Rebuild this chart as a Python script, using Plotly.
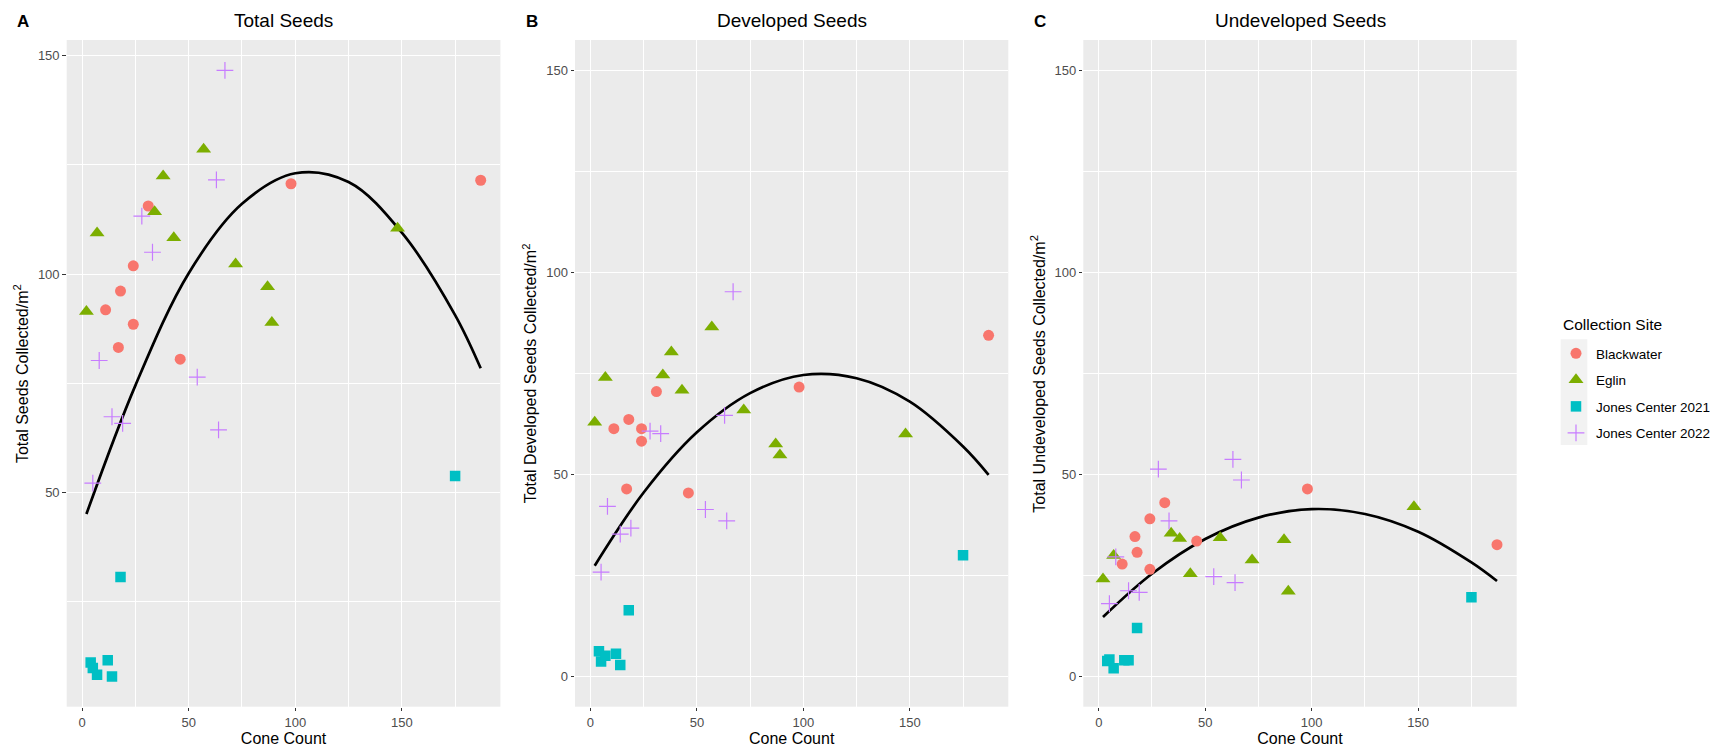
import numpy as np
import plotly.graph_objects as go

# ---------------- data ----------------
sites = ["Blackwater", "Eglin", "Jones Center 2021", "Jones Center 2022"]

bw_x = [11, 17, 18, 24, 24, 31, 46, 98, 187]
bw_total = [91.8, 83.2, 96.1, 101.9, 88.5, 115.6, 80.5, 120.7, 121.5]
bw_dev = [61.3, 46.4, 63.6, 61.3, 58.2, 70.5, 45.4, 71.6, 84.4]
bw_undev = [27.8, 34.6, 30.7, 39.0, 26.5, 43.0, 33.5, 46.4, 32.6]

eg_x = [2, 7, 34, 38, 43, 57, 72, 87, 89, 148]
eg_total = [91.4, 109.4, 114.3, 122.5, 108.3, 128.6, 102.3, 97.1, 88.9, 110.5]
eg_dev = [62.9, 74.0, 74.6, 80.3, 70.8, 86.5, 65.9, 57.5, 54.8, 60.0]
eg_undev = [24.1, 29.9, 35.4, 34.1, 25.4, 34.3, 28.8, 33.8, 21.1, 42.0]

j21_x = [4, 5, 7, 12, 14, 18, 175]
j21_total = [11.0, 9.7, 8.2, 11.5, 7.8, 30.6, 53.7]
j21_dev = [6.2, 3.7, 5.1, 5.6, 2.8, 16.4, 30.0]
j21_undev = [3.8, 4.2, 2.0, 4.0, 4.0, 12.0, 19.6]

j22_x = [5, 8, 14, 19, 28, 33, 54, 63, 64, 67]
j22_total = [52.1, 80.2, 67.3, 65.8, 113.3, 105.0, 76.4, 121.6, 64.3, 146.7]
j22_dev = [25.8, 42.1, 35.2, 36.7, 60.7, 60.1, 41.3, 64.6, 38.5, 95.2]
j22_undev = [18.0, 29.6, 21.2, 20.8, 51.3, 38.5, 24.7, 53.7, 23.2, 48.6]

# quadratic trend lines, heights
fit_x = [2, 25, 50, 75, 100, 125, 150, 175, 187]
fit_total = [45.0, 74.5, 100.2, 116.1, 123.1, 121.1, 109.5, 90.6, 78.4]
fit_dev = [27.4, 45.5, 60.4, 70.1, 74.6, 73.8, 68.0, 56.9, 49.9]
fit_undev = [14.7, 25.4, 34.0, 39.3, 41.4, 40.2, 35.8, 28.2, 23.6]

panel_titles = ["Total Seeds", "Developed Seeds", "Undeveloped Seeds"]
panel_letters = ["A", "B", "C"]
y_titles = ["Total Seeds Collected/m<sup>2</sup>",
            "Total Developed Seeds Collected/m<sup>2</sup>",
            "Total Undeveloped Seeds Collected/m<sup>2</sup>"]
x_title = "Cone Count"
legend_title = "Collection Site"
x_ticks = [0, 50, 100, 150]
y_ticks = [0, 50, 100, 150]

# ---------------- styling ----------------
colors = ["#F8766D", "#7CAE00", "#00BFC4", "#C77CFF"]
symbols = ["circle", "triangle-up", "square", "cross-thin-open"]
sizes = [11, 13, 10.5, 12]
FONT = "Liberation Sans, Arial, Helvetica, sans-serif"
W, H = 1725, 752

xs_by_site = [bw_x, eg_x, j21_x, j22_x]
ys_by_panel = [
    [bw_total, eg_total, j21_total, j22_total],
    [bw_dev, eg_dev, j21_dev, j22_dev],
    [bw_undev, eg_undev, j21_undev, j22_undev],
]
fits = [fit_total, fit_dev, fit_undev]

panel_px = [(66.7, 500.4), (575.0, 1008.3), (1083.3, 1516.7)]
top_px, bot_px = 40.0, 706.7
ydom = [1 - bot_px / H, 1 - top_px / H]

fig = go.Figure()

all_x = np.concatenate([np.array(v, float) for v in xs_by_site])
xmin, xmax = all_x.min(), all_x.max()
xpad = 0.05 * (xmax - xmin)
xrange_ = [xmin - xpad, xmax + xpad]

for p in range(3):
    xa = "x" if p == 0 else f"x{p+1}"
    ya = "y" if p == 0 else f"y{p+1}"
    fig.add_trace(go.Scatter(x=fit_x, y=fits[p], mode="lines", showlegend=False,
                             line=dict(color="black", width=2.7, shape="spline",
                                       smoothing=1.0),
                             xaxis=xa, yaxis=ya, hoverinfo="skip"))
    for s in range(4):
        fig.add_trace(go.Scatter(
            x=xs_by_site[s], y=ys_by_panel[p][s], mode="markers",
            name=sites[s], legendgroup=sites[s], showlegend=(p == 0),
            marker=dict(symbol=symbols[s], color=colors[s], size=sizes[s],
                        line=dict(color=colors[s], width=1.2 if s == 3 else 0)),
            xaxis=xa, yaxis=ya, hoverinfo="x+y+name"))

    if p == 0:
        all_y = np.concatenate([np.array(v, float) for v in ys_by_panel[p]])
        ymin, ymax = all_y.min(), all_y.max()
        ypad = 0.05 * (ymax - ymin)
        yrange_ = [ymin - ypad, ymax + ypad]
    else:
        yrange_ = [0 - 7.5, 150 + 7.5]

    l, r = panel_px[p]
    axis_common = dict(
        showgrid=True, gridcolor="white", gridwidth=1.4, zeroline=False,
        showline=False, ticks="outside", ticklen=3.5, tickwidth=1.1,
        tickcolor="#333333", tickfont=dict(family=FONT, size=13, color="#4D4D4D"),
        minor=dict(showgrid=True, gridcolor="white", gridwidth=0.6, ticks=""),
    )
    fig.layout[f"xaxis{'' if p == 0 else p+1}"] = dict(
        axis_common, domain=[l / W, r / W], range=xrange_, tickvals=x_ticks,
        minor_tickvals=[25, 75, 125, 175], anchor=ya,
        title=dict(text=x_title, font=dict(family=FONT, size=16, color="black"),
                   standoff=4))
    fig.layout[f"yaxis{'' if p == 0 else p+1}"] = dict(
        axis_common, domain=ydom, range=yrange_, tickvals=y_ticks,
        minor_tickvals=[25, 75, 125], anchor=xa)

    fig.add_annotation(text=panel_titles[p], x=(l + r) / 2 / W, y=1 - 20.5 / H,
                       xref="paper", yref="paper", showarrow=False,
                       xanchor="center", yanchor="middle",
                       font=dict(family=FONT, size=19, color="black"))
    fig.add_annotation(text=f"<b>{panel_letters[p]}</b>",
                       x=(l - 43.5) / W, y=1 - 21 / H,
                       xref="paper", yref="paper", showarrow=False,
                       xanchor="center", yanchor="middle",
                       font=dict(family=FONT, size=17, color="black"))
    fig.add_annotation(text=y_titles[p], x=(l - 45.0) / W,
                       y=1 - ((top_px + bot_px) / 2) / H,
                       xref="paper", yref="paper", showarrow=False, textangle=-90,
                       xanchor="center", yanchor="middle",
                       font=dict(family=FONT, size=16, color="black"))

# legend title and key background
fig.add_annotation(text=legend_title, x=1560.5 / W, y=1 - 324 / H,
                   xref="paper", yref="paper", showarrow=False,
                   xanchor="left", yanchor="middle",
                   font=dict(family=FONT, size=15.5, color="black"))
fig.add_shape(type="rect", xref="paper", yref="paper",
              x0=1560.7 / W, x1=1587.3 / W, y0=1 - 445 / H, y1=1 - 339.3 / H,
              fillcolor="#F2F2F2", line=dict(width=0), layer="below")

fig.update_layout(
    width=W, height=H, margin=dict(l=0, r=0, t=0, b=0),
    paper_bgcolor="white", plot_bgcolor="#EBEBEB",
    font=dict(family=FONT, color="black"),
    legend=dict(x=1556 / W, y=1 - 338 / H, xanchor="left", yanchor="top",
                font=dict(family=FONT, size=13.5, color="black"),
                bgcolor="rgba(0,0,0,0)", tracegroupgap=6, itemsizing="trace"),
    showlegend=True,
)

fig.write_html("out.html")
